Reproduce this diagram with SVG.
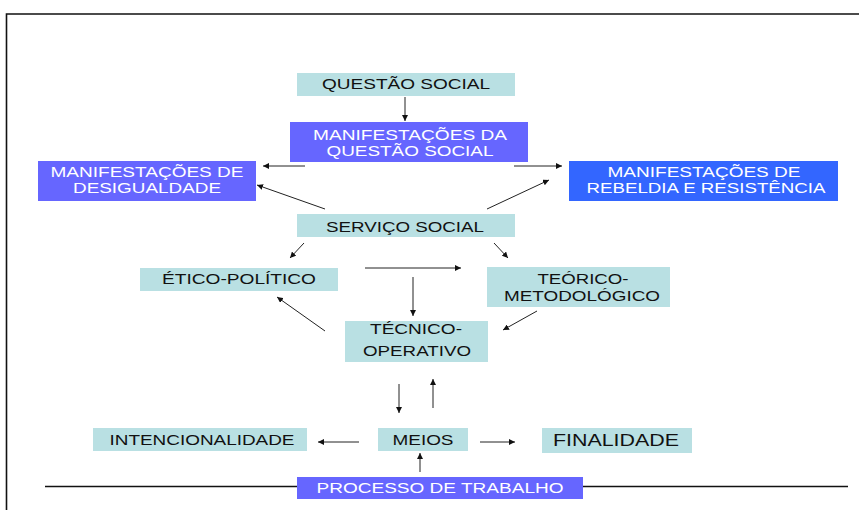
<svg xmlns="http://www.w3.org/2000/svg" width="859" height="510" viewBox="0 0 859 510">
<style>
.teal{fill:#B9E0E3}
.purple{fill:#6666FF}
.blue{fill:#3366FF}
text{font-family:"Liberation Sans",Arial,sans-serif;font-size:14px;text-anchor:middle}
.dk{fill:#111}
.wt{fill:#FFFFFF}
.big{font-size:17px}
.ln{stroke:#222;stroke-width:1;fill:none;marker-end:url(#ah)}
.frame{stroke:#111;stroke-width:1.6;fill:none}
</style>
<defs>
<marker id="ah" markerUnits="userSpaceOnUse" markerWidth="7" markerHeight="6" refX="6" refY="3" orient="auto">
<path d="M0,0 L6,3 L0,6 z" fill="#111"/>
</marker>
</defs>
<rect width="859" height="510" fill="#FFFFFF"/>
<g id="frame">
<path class="frame" d="M6.5,510 L6.5,14 L859,14"/>
<path class="frame" d="M45,486.5 L848,486.5"/>
</g>
<g id="connectors">
<line class="ln" x1="405" y1="97" x2="405" y2="121"/>
<line class="ln" x1="305" y1="166" x2="263" y2="166"/>
<line class="ln" x1="514" y1="166" x2="562" y2="166"/>
<line class="ln" x1="325" y1="209" x2="257" y2="185"/>
<line class="ln" x1="487" y1="209" x2="549" y2="180"/>
<line class="ln" x1="304" y1="243" x2="290" y2="258"/>
<line class="ln" x1="494" y1="243" x2="508" y2="258"/>
<line class="ln" x1="365" y1="268" x2="461" y2="268"/>
<line class="ln" x1="413" y1="277" x2="413" y2="316"/>
<line class="ln" x1="325" y1="331" x2="277" y2="297"/>
<line class="ln" x1="537" y1="311" x2="503" y2="330"/>
<line class="ln" x1="399" y1="384" x2="399" y2="413"/>
<line class="ln" x1="433" y1="408" x2="433" y2="379"/>
<line class="ln" x1="359" y1="442" x2="318" y2="442"/>
<line class="ln" x1="480" y1="442" x2="515" y2="442"/>
<line class="ln" x1="420" y1="472" x2="420" y2="453"/>
</g>
<g id="questao-social">
<rect class="teal" x="297" y="73" width="218" height="23"/>
<text class="dk" x="406" y="89" textLength="168" lengthAdjust="spacingAndGlyphs">QUESTÃO SOCIAL</text>
</g>
<g id="manifestacoes-questao">
<rect class="purple" x="290" y="122" width="238" height="40"/>
<text class="wt" x="410" y="140" textLength="194" lengthAdjust="spacingAndGlyphs">MANIFESTAÇÕES DA</text>
<text class="wt" x="410" y="156" textLength="167" lengthAdjust="spacingAndGlyphs">QUESTÃO SOCIAL</text>
</g>
<g id="desigualdade">
<rect class="purple" x="38" y="161" width="218" height="40"/>
<text class="wt" x="147" y="177" textLength="193" lengthAdjust="spacingAndGlyphs">MANIFESTAÇÕES DE</text>
<text class="wt" x="147" y="193" textLength="148" lengthAdjust="spacingAndGlyphs">DESIGUALDADE</text>
</g>
<g id="rebeldia">
<rect class="blue" x="569" y="161" width="269" height="40"/>
<text class="wt" x="704" y="177" textLength="193" lengthAdjust="spacingAndGlyphs">MANIFESTAÇÕES DE</text>
<text class="wt" x="706" y="193" textLength="239" lengthAdjust="spacingAndGlyphs">REBELDIA E RESISTÊNCIA</text>
</g>
<g id="servico-social">
<rect class="teal" x="297" y="214" width="218" height="23"/>
<text class="dk" x="405" y="232" textLength="158" lengthAdjust="spacingAndGlyphs">SERVIÇO SOCIAL</text>
</g>
<g id="etico-politico">
<rect class="teal" x="140" y="268" width="198" height="23"/>
<text class="dk" x="239" y="284" textLength="154" lengthAdjust="spacingAndGlyphs">ÉTICO-POLÍTICO</text>
</g>
<g id="teorico-metodologico">
<rect class="teal" x="487" y="267" width="183" height="40"/>
<text class="dk" x="583" y="284" textLength="91" lengthAdjust="spacingAndGlyphs">TEÓRICO-</text>
<text class="dk" x="582" y="301" textLength="156" lengthAdjust="spacingAndGlyphs">METODOLÓGICO</text>
</g>
<g id="tecnico-operativo">
<rect class="teal" x="345" y="321" width="143" height="41"/>
<text class="dk" x="416" y="334" textLength="92" lengthAdjust="spacingAndGlyphs">TÉCNICO-</text>
<text class="dk" x="417" y="356" textLength="108" lengthAdjust="spacingAndGlyphs">OPERATIVO</text>
</g>
<g id="intencionalidade">
<rect class="teal" x="93" y="428" width="214" height="23"/>
<text class="dk" x="202" y="445" textLength="185" lengthAdjust="spacingAndGlyphs">INTENCIONALIDADE</text>
</g>
<g id="meios">
<rect class="teal" x="378" y="428" width="90" height="23"/>
<text class="dk" x="423" y="445" textLength="61" lengthAdjust="spacingAndGlyphs">MEIOS</text>
</g>
<g id="finalidade">
<rect class="teal" x="542" y="428" width="150" height="25"/>
<text class="dk big" x="616" y="446" textLength="126" lengthAdjust="spacingAndGlyphs">FINALIDADE</text>
</g>
<g id="processo-de-trabalho">
<rect class="purple" x="297" y="477" width="286" height="22"/>
<text class="wt" x="440" y="493" textLength="247" lengthAdjust="spacingAndGlyphs">PROCESSO DE TRABALHO</text>
</g>
</svg>
